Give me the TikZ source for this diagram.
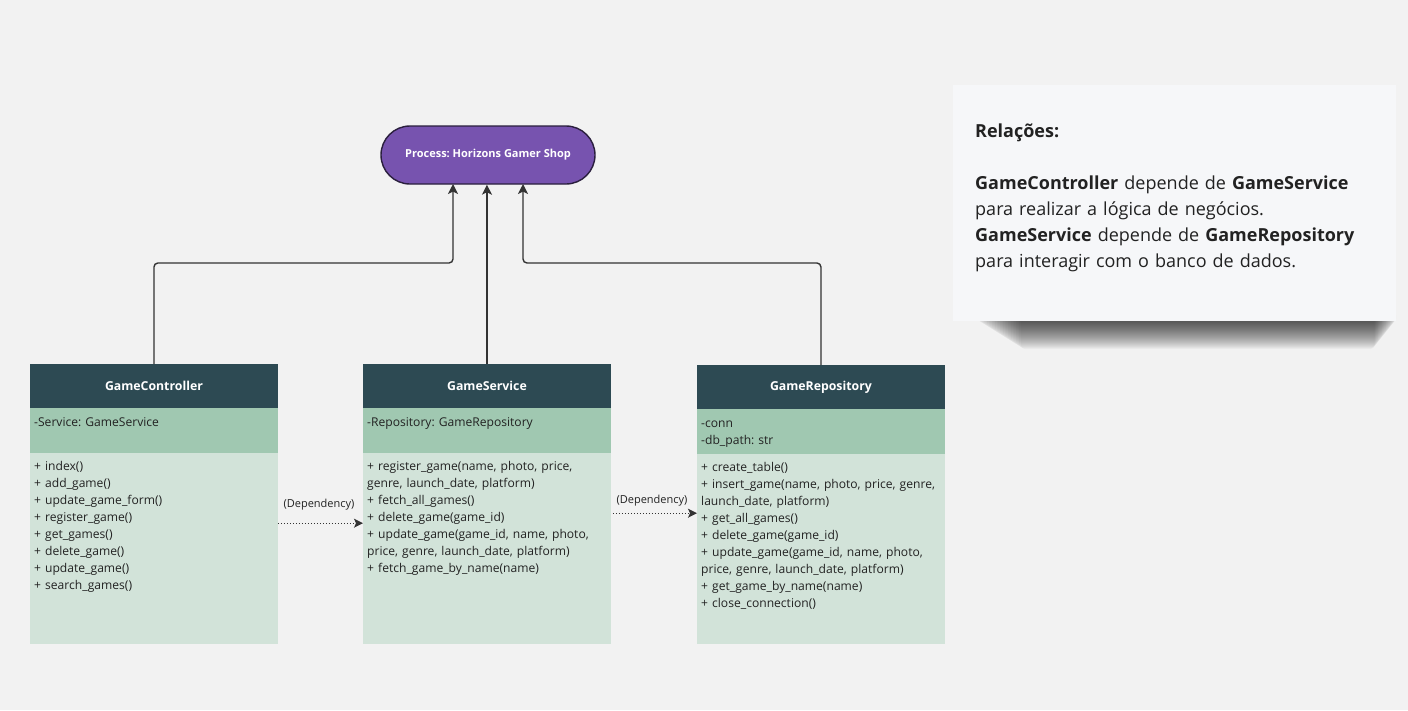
\documentclass[tikz,border=0pt]{standalone}
\usepackage{fontspec}
\setmainfont{Open Sans}
\usetikzlibrary{arrows.meta}

\definecolor{bgcol}{HTML}{F2F2F2}
\definecolor{procfill}{HTML}{7753AF}
\definecolor{procline}{HTML}{2A1F3D}
\definecolor{headcol}{HTML}{2D4A53}
\definecolor{attrcol}{HTML}{A0C8B1}
\definecolor{methcol}{HTML}{D2E3D9}
\definecolor{notecol}{HTML}{F6F7F9}
\definecolor{inkcol}{HTML}{222222}
\definecolor{linkcol}{HTML}{333333}

\frenchspacing

\begin{document}
\begin{tikzpicture}[x=1pt,y=-1pt,
	classhead/.style={fill=headcol,anchor=north west,minimum width=247.5,minimum height=44,inner sep=0,text=white,font=\fontsize{12.3}{14}\selectfont\bfseries},
	classattr/.style={fill=attrcol,anchor=north west,minimum width=247.5,minimum height=45,inner sep=0},
	classmeth/.style={fill=methcol,anchor=north west,minimum width=247.5,minimum height=191,inner sep=0},
	membertxt/.style={anchor=base west,inner sep=0,text width=244,align=left,text=inkcol,font=\fontsize{12.1}{17}\selectfont},
	link/.style={draw=linkcol,line width=1.4pt,rounded corners=4,-{Stealth[length=10pt,width=10pt,inset=2.5pt]}},
	dep/.style={draw=linkcol,line width=1pt,dotted,-{Stealth[length=9pt,width=9pt,inset=2pt]}},
	deptxt/.style={text=inkcol,inner sep=0,font=\fontsize{11}{13}\selectfont}]

	\useasboundingbox (0,0) rectangle (1408,710);
	\fill[bgcol] (0,0) rectangle (1408,710);

	\node [name=process,draw=procline,fill=procfill,line width=1.4pt,rounded corners=29,minimum width=214,minimum height=58,text=white,font=\fontsize{11}{13}\selectfont\bfseries] at (488,155) {Process: Horizons Gamer Shop};

	\node [name=ctrlhead,classhead] at (30,364) {GameController};
	\node [name=ctrlattr,classattr] at (30,408) {};
	\node [name=ctrlmeth,classmeth] at (30,453) {};
	\node [name=ctrlattrtxt,membertxt] at (34,426) {-Service: GameService};
	\node [name=ctrlmethtxt,membertxt] at (34,470) {+ index()\\+ add\_game()\\+ update\_game\_form()\\+ register\_game()\\+ get\_games()\\+ delete\_game()\\+ update\_game()\\+ search\_games()};

	\node [name=srvhead,classhead] at (363,364) {GameService};
	\node [name=srvattr,classattr] at (363,408) {};
	\node [name=srvmeth,classmeth] at (363,453) {};
	\node [name=srvattrtxt,membertxt] at (367,426) {-Repository: GameRepository};
	\node [name=srvmethtxt,membertxt] at (367,470) {+ register\_game(name, photo, price,\\genre, launch\_date, platform)\\+ fetch\_all\_games()\\+ delete\_game(game\_id)\\+ update\_game(game\_id, name, photo,\\price, genre, launch\_date, platform)\\+ fetch\_game\_by\_name(name)};

	\node [name=repohead,classhead] at (697,365) {GameRepository};
	\node [name=repoattr,classattr] at (697,409) {};
	\node [name=repometh,classmeth,minimum height=190] at (697,454) {};
	\node [name=repoattrtxt,membertxt] at (701,427) {-conn\\-db\_path: str};
	\node [name=repomethtxt,membertxt] at (701,471) {+ create\_table()\\+ insert\_game(name, photo, price, genre,\\launch\_date, platform)\\+ get\_all\_games()\\+ delete\_game(game\_id)\\+ update\_game(game\_id, name, photo,\\price, genre, launch\_date, platform)\\+ get\_game\_by\_name(name)\\+ close\_connection()};

	\coordinate (procleft) at (453,184);
	\coordinate (procright) at (523,184);

	\draw [link] (ctrlhead.north) -- ++(0,-101) -| (procleft);
	\draw [link] (srvhead.north) -- (srvhead.north |- process.south);
	\draw [link] (repohead.north) -- ++(0,-102) -| (procright);

	\draw [dep] ([yshift=25.5pt]ctrlmeth.east) -- ([yshift=25.5pt]srvmeth.west);
	\draw [dep] ([xshift=2pt,yshift=35.5pt]srvmeth.east) -- ([yshift=36pt]repometh.west);
	\node [name=dep1,deptxt] at (319,505) {(Dependency)};
	\node [name=dep2,deptxt] at (652,501) {(Dependency)};

	\foreach \i in {1,...,28}
		\fill [black,opacity=0.03,rounded corners=4] (976+1.6*\i,312) rectangle (1397-0.8*\i,321+\i);
	\node [name=note,fill=notecol,anchor=north west,minimum width=443,minimum height=236,inner sep=0] at (953,85) {};
	\node [name=notetxt,anchor=base west,inner sep=0,text width=430,align=left,text=inkcol,font=\fontsize{18}{26}\selectfont] at (975,137)
		{\textbf{Relações:}\\[26pt]\textbf{GameController} depende de \textbf{GameService}\\para realizar a lógica de negócios.\\\textbf{GameService} depende de \textbf{GameRepository}\\para interagir com o banco de dados.};

\end{tikzpicture}
\end{document}
